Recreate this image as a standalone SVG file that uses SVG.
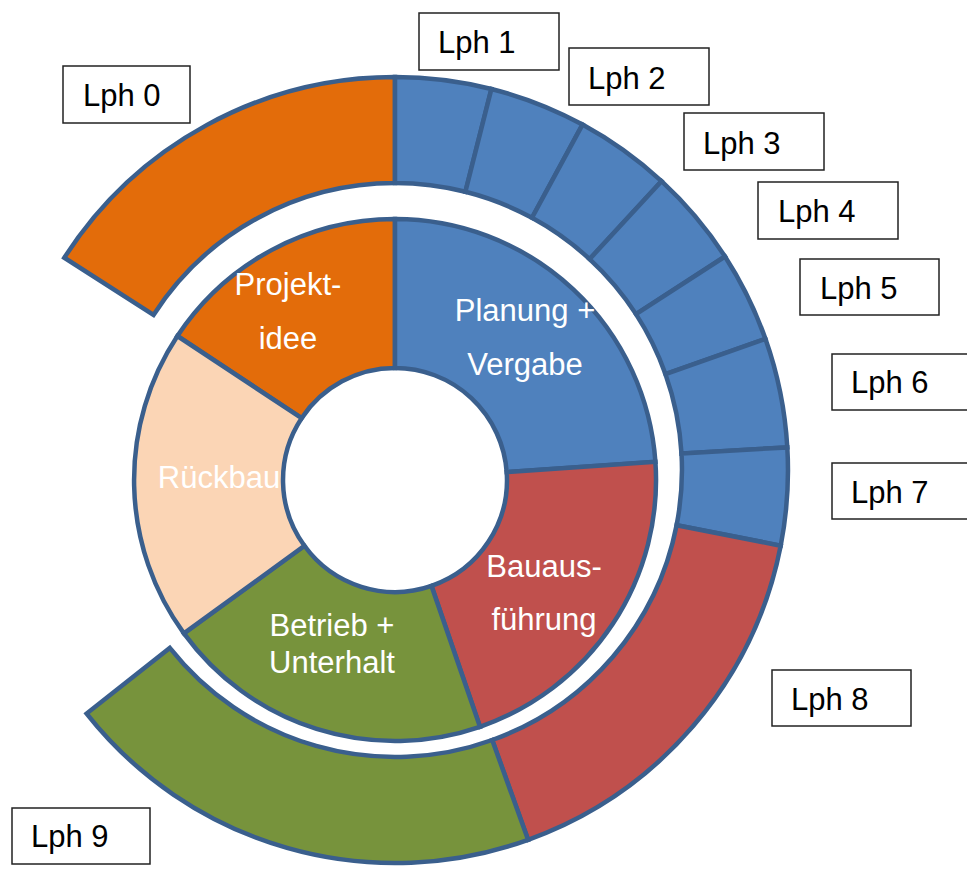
<svg xmlns="http://www.w3.org/2000/svg" width="967" height="869" viewBox="0 0 967 869">
<style>
.seg{stroke:#3A5F8D;stroke-width:4.5;stroke-linejoin:miter}
.thick{stroke:#3A5F8D;stroke-width:6;fill:none}
.or{fill:#E36C0A}.bl{fill:#4F81BD}.rd{fill:#C0504D}.gr{fill:#77933C}.pc{fill:#FBD5B5}
.box{fill:#fff;stroke:#222;stroke-width:1.5}
.lbl{font-family:"Liberation Sans",Arial,sans-serif;font-size:31px;fill:#000}
.in{font-family:"Liberation Sans",Arial,sans-serif;font-size:31px;fill:#fff;text-anchor:middle}
</style>
<rect width="967" height="869" fill="#fff"/>
<g id="outer-ring">
<g id="seg-lph0"><path class="seg or" d="M64.3,257.7 A393,393 0 0 1 395,77 L395,183 A287,287 0 0 0 153.5,315 Z"/></g>
<g id="seg-lph1"><path class="seg bl" d="M395,77 A393,393 0 0 1 491.4,89 L465.4,191.8 A287,287 0 0 0 395,183 Z"/></g>
<g id="seg-lph2"><path class="seg bl" d="M491.4,89 A393,393 0 0 1 582.5,124.6 L532,217.8 A287,287 0 0 0 465.4,191.8 Z"/></g>
<g id="seg-lph3"><path class="seg bl" d="M582.5,124.6 A393,393 0 0 1 661.5,181.2 L589.6,259.1 A287,287 0 0 0 532,217.8 Z"/></g>
<g id="seg-lph4"><path class="seg bl" d="M661.5,181.2 A393,393 0 0 1 725,256.5 L636,314.1 A287,287 0 0 0 589.6,259.1 Z"/></g>
<g id="seg-lph5"><path class="seg bl" d="M725,256.5 A393,393 0 0 1 765.4,338.8 L665.5,374.2 A287,287 0 0 0 636,314.1 Z"/></g>
<g id="seg-lph6"><path class="seg bl" d="M765.4,338.8 A393,393 0 0 1 787.3,447.4 L681.5,453.5 A287,287 0 0 0 665.5,374.2 Z"/></g>
<g id="seg-lph7"><path class="seg bl" d="M787.3,447.4 A393,393 0 0 1 780.7,545.7 L676.6,525.2 A287,287 0 0 0 681.5,453.5 Z"/></g>
<g id="seg-lph8"><path class="seg rd" d="M780.7,545.7 A393,393 0 0 1 528.1,839.8 L492.2,740 A287,287 0 0 0 676.6,525.2 Z"/></g>
<g id="seg-lph9"><path class="seg gr" d="M528.1,839.8 A393,393 0 0 1 86.6,713.6 L169.8,647.9 A287,287 0 0 0 492.2,740 Z"/></g>
</g>
<g id="inner-ring">
<g id="projektidee"><path class="seg or" d="M177.4,336 A261,261 0 0 1 395,219 L395,368 A112,112 0 0 0 301.6,418.2 Z"/>
<text class="in" x="288" y="295">Projekt-</text><text class="in" x="288" y="349">idee</text></g>
<g id="planung"><path class="seg bl" d="M395,219 A261,261 0 0 1 655.4,461.8 L506.7,472.2 A112,112 0 0 0 395,368 Z"/>
<text class="in" x="525" y="321">Planung +</text><text class="in" x="525" y="375">Vergabe</text></g>
<g id="bauausfuehrung"><path class="seg rd" d="M655.4,461.8 A261,261 0 0 1 480,726.8 L431.5,585.9 A112,112 0 0 0 506.7,472.2 Z"/>
<text class="in" x="544" y="577">Bauaus-</text><text class="in" x="544" y="630">führung</text></g>
<g id="betrieb"><path class="seg gr" d="M480,726.8 A261,261 0 0 1 183.9,633.4 L304.4,545.8 A112,112 0 0 0 431.5,585.9 Z"/>
<text class="in" x="332" y="636">Betrieb +</text><text class="in" x="332" y="673">Unterhalt</text></g>
<g id="rueckbau"><path class="seg pc" d="M183.9,633.4 A261,261 0 0 1 177.4,336 L301.6,418.2 A112,112 0 0 0 304.4,545.8 Z"/>
<text class="in" x="219" y="488">Rückbau</text></g>
</g>
<g id="labels">
<g id="lph0"><rect class="box" x="63" y="66" width="127" height="57"/><text class="lbl" x="83" y="106">Lph 0</text></g>
<g id="lph1"><rect class="box" x="419" y="13" width="140" height="57"/><text class="lbl" x="438" y="53">Lph 1</text></g>
<g id="lph2"><rect class="box" x="569" y="48" width="140" height="57"/><text class="lbl" x="588" y="89">Lph 2</text></g>
<g id="lph3"><rect class="box" x="684" y="113" width="140" height="57"/><text class="lbl" x="703" y="154">Lph 3</text></g>
<g id="lph4"><rect class="box" x="758" y="182" width="140" height="57"/><text class="lbl" x="778" y="222">Lph 4</text></g>
<g id="lph5"><rect class="box" x="800" y="259" width="139" height="56"/><text class="lbl" x="820" y="299">Lph 5</text></g>
<g id="lph6"><rect class="box" x="832" y="354" width="140" height="56"/><text class="lbl" x="851" y="393">Lph 6</text></g>
<g id="lph7"><rect class="box" x="832" y="463" width="140" height="56"/><text class="lbl" x="851" y="503">Lph 7</text></g>
<g id="lph8"><rect class="box" x="772" y="670" width="139" height="56"/><text class="lbl" x="791" y="710">Lph 8</text></g>
<g id="lph9"><rect class="box" x="12" y="808" width="138" height="56"/><text class="lbl" x="31" y="847">Lph 9</text></g>
</g>
<g id="connectors"/>
</svg>
